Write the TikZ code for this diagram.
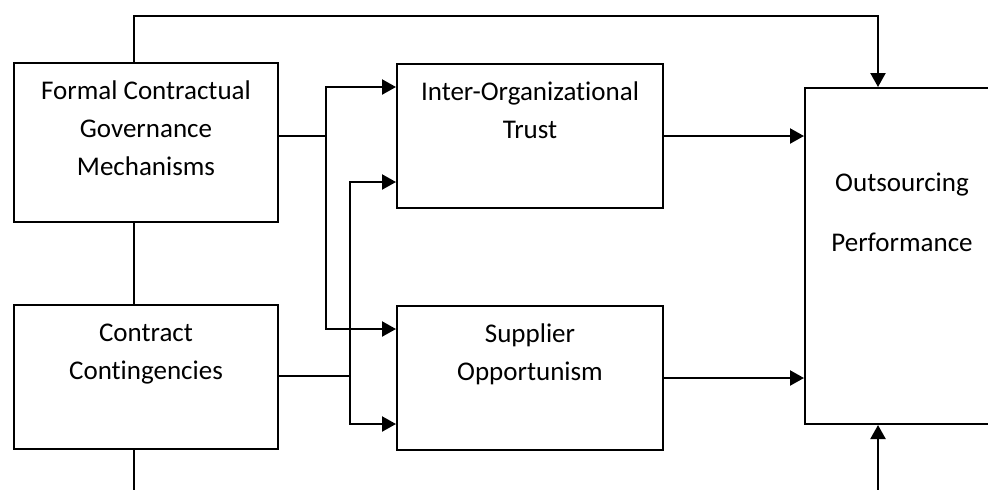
\documentclass[tikz,border=0pt]{standalone}
\usepackage{fontspec}
\setmainfont{Carlito}[Ligatures=NoCommon]
\usetikzlibrary{arrows.meta, positioning}

\begin{document}
\begin{tikzpicture}[
        x=0.5pt, y=-0.5pt,
        box/.style={rectangle, draw, line width=1pt, inner sep=0pt},
        txt/.style={anchor=north, align=center, inner sep=0pt, font=\fontsize{13.5}{19}\selectfont},
        line/.style={line width=0.9pt},
        arrow/.style={line width=1.1pt, -{Triangle[length=7pt, width=7.5pt]}}
    ]
        \useasboundingbox (0,0) rectangle (988,489);

        \node[box, minimum width=132pt, minimum height=79.5pt,
              label={[txt, yshift=-5.2pt]north:\strut Formal Contractual\\Governance\\Mechanisms}] (formal) at (146,142.5) {};
        \node[box, minimum width=132pt, minimum height=72pt, below=40.5pt of formal,
              label={[txt, yshift=-5.2pt]north:\strut Contract\\Contingencies}] (contract) {};
        \node[box, minimum width=133pt, minimum height=72pt,
              label={[txt, yshift=-5.2pt]north:\strut Inter-Organizational\\Trust}] (inter) at (530,136) {};
        \node[box, minimum width=133pt, minimum height=72pt, below=48pt of inter,
              label={[txt, yshift=-5.2pt]north:\strut Supplier\\Opportunism}] (supplier) {};
        \node[box, minimum width=97pt, minimum height=168pt,
              label={[txt, yshift=-38.5pt]north:\strut Outsourcing\\[11pt]Performance}] (out) at (902,256) {};

        % outer loop over the top and the bottom
        \coordinate (topleft) at (134,16);
        \coordinate (topright) at (878,16);
        \coordinate (bottomleft) at (134,495);
        \coordinate (bottomright) at (878,495);
        \draw[arrow] (formal.north -| topleft) -- (topleft) -- (topright) -- (topright |- out.north);
        \draw[line] (formal.south -| topleft) -- (contract.north -| topleft);
        \draw[line] (contract.south -| topleft) -- (bottomleft);
        \draw[arrow] (bottomright) -- (bottomright |- out.south);

        % forks into the mediators
        \coordinate (forkA) at (326,136);
        \coordinate (forkB) at (350,376);
        \draw[line] (formal.east |- forkA) -- (forkA);
        \draw[arrow] (forkA) |- ([yshift=-12pt]inter.north west);
        \draw[arrow] (forkA) |- ([yshift=-12pt]supplier.north west);
        \draw[line] (contract.east |- forkB) -- (forkB);
        \draw[arrow] (forkB) |- ([yshift=-59.5pt]inter.north west);
        \draw[arrow] (forkB) |- ([yshift=-59.5pt]supplier.north west);

        \draw[arrow] (inter.east) -- (inter.east -| out.west);
        \draw[arrow] (supplier.east) -- (supplier.east -| out.west);
\end{tikzpicture}
\end{document}
